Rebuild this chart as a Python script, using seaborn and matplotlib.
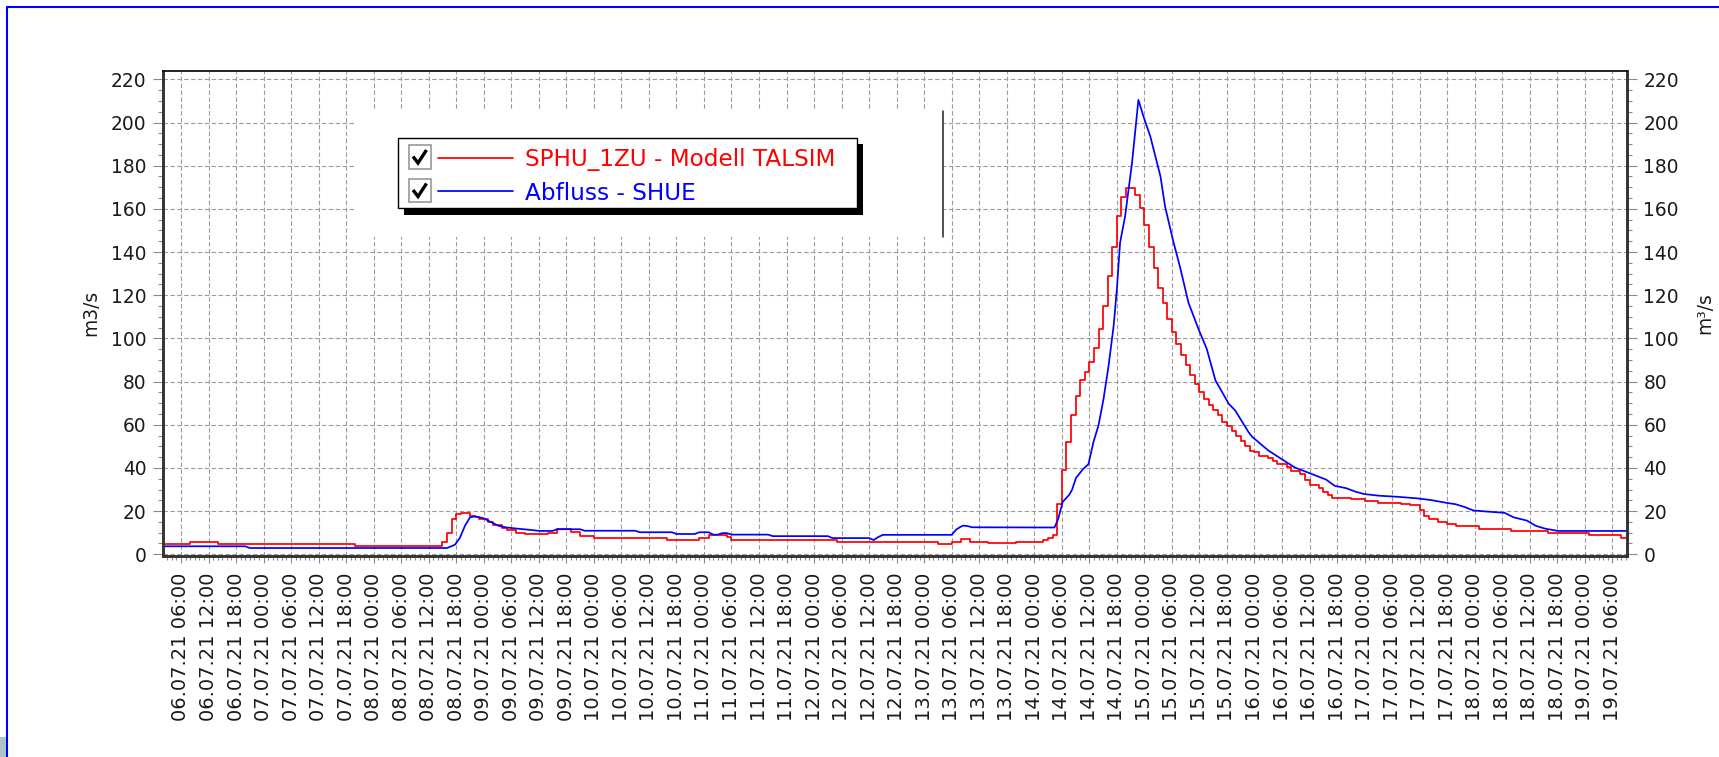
import pandas as pd
import matplotlib
matplotlib.use("Agg")
import matplotlib.pyplot as plt
import matplotlib.dates as mdates
from matplotlib.patches import Rectangle
from matplotlib.lines import Line2D
from matplotlib.ticker import MultipleLocator
import seaborn as sns

START = pd.Timestamp("2021-07-06 06:00")

# Model run (hourly step series): hours after START where the value changes, new value in m3/s
model_hours = [-4, 2, 8, 38, 57, 58, 59, 60, 61, 63, 64, 65, 67, 68, 70, 71, 73, 75, 80, 82,
               85, 87, 90, 106, 113, 115, 119, 120, 143, 165, 168, 170, 172, 176, 182, 188, 189, 190,
               191, 192, 193, 194, 195, 196, 197, 198, 199, 200, 201, 202, 203, 204, 205, 206,
               208, 209, 210, 211, 212, 213, 214, 215, 216, 217, 218, 219, 220, 221, 222, 223,
               224, 225, 226, 227, 228, 229, 230, 231, 232, 233, 234, 235, 237, 238, 239, 241,
               242, 244, 245, 246, 248, 249, 250, 251, 255, 258, 261, 266, 268, 270, 271, 272,
               274, 276, 278, 283, 290, 298, 307, 314, 315.2]
model_q = [4.7, 5.7, 4.8, 4.0, 5.7, 10.0, 16.3, 18.5, 19.2, 17.9, 17.1, 16.3, 14.8, 13.5, 12.4, 11.3, 10.0, 9.2, 10.0, 11.5,
           10.2, 8.6, 7.5, 6.7, 7.5, 8.9, 7.8, 6.7, 5.9, 4.8, 5.8, 7.0, 5.9, 5.0, 5.7, 6.8, 7.6, 8.9,
           23.5, 38.9, 52.0, 64.3, 73.1, 80.5, 84.6, 88.9, 95.4, 104.3, 115.1, 128.9, 142.5, 156.6, 165.5, 169.7,
           166.6, 160.5, 152.3, 142.5, 132.8, 123.5, 116.3, 109.2, 103.1, 97.4, 92.3, 87.8, 83.1, 78.9, 75.1, 71.7,
           69.2, 66.6, 64.3, 61.5, 59.4, 56.9, 54.6, 52.3, 50.0, 48.0, 47.3, 45.7, 44.6, 43.3, 41.7, 40.2,
           38.6, 37.0, 34.6, 32.2, 30.6, 29.0, 27.5, 26.2, 25.4, 24.8, 23.9, 23.5, 22.7, 20.3, 17.9, 16.3,
           15.1, 14.0, 12.9, 11.9, 10.8, 9.7, 8.7, 7.6, 7.6]

# Gauge measurement: hours after START and discharge in m3/s
gauge_hours = [-4, 14, 15, 58, 59.7, 60.8, 61.9, 63, 64.1, 65.9, 67.4, 69.2, 71, 73.2, 76.1, 78.3, 81, 82,
               87, 88, 99, 100, 107, 108, 112, 113, 115, 116, 117, 118, 119, 120, 128, 129, 141, 142,
               150, 151, 152, 153, 168, 169, 170, 170.6, 171.6, 172.4, 190.4, 191.2, 192.2, 193.6, 194.2,
               195.1, 196.6, 197.8, 198.9, 200, 201.1, 202.2, 203.3, 204, 204.7, 205.8, 207.3, 208.7,
               209.8, 211.3, 213.5, 214.5, 216.2, 217.8, 219.6, 221.8, 223.6, 225.5, 228.4, 229.8,
               232.7, 233.5, 237, 239.9, 242.8, 246.7, 249.6, 251.5, 254, 256, 257.9, 261.3, 264.7,
               269.5, 272.5, 275.9, 277.8, 279.8, 281.7, 284.6, 288.5, 290.5, 293.4, 295.3, 297.3,
               300.2, 315.2]
gauge_q = [3.7, 3.7, 2.9, 2.9, 4.4, 7.6, 13.2, 17.1, 17.6, 16.7, 15.1, 13.2, 12.4, 11.9, 11.3, 10.8, 10.8, 11.6,
           11.6, 10.9, 10.9, 10.2, 10.2, 9.4, 9.4, 10.2, 10.2, 9.1, 9.1, 9.8, 9.8, 9.1, 9.1, 8.4, 8.4, 7.5,
           7.5, 6.6, 8.0, 9.0, 9.0, 11.5, 12.8, 13.3, 13.0, 12.5, 12.4, 16.3, 24.3, 27.5, 29.7,
           35.4, 39.4, 41.7, 52.0, 59.7, 72.0, 87.4, 105.8, 122.8, 144.3, 156.6, 181.2, 210.5,
           202.8, 193.5, 175.1, 161.2, 145.8, 132.8, 116.6, 104.3, 95.1, 80.5, 69.7, 66.6,
           56.6, 54.4, 48.1, 44.1, 40.2, 37.0, 34.6, 31.7, 30.6, 29.0, 27.9, 27.1, 26.7,
           25.9, 25.1, 23.8, 23.2, 21.9, 20.3, 19.8, 19.2, 17.1, 15.6, 13.2, 11.9,
           10.8, 10.8]

series_labels = ["SPHU_1ZU - Modell TALSIM", "Abfluss - SHUE"]
series_colors = ["#ff0000", "#0000ff"]
y_ticks = list(range(0, 221, 20))
x_range_hours = (-3.92, 315.2)

model = pd.DataFrame({"time": START + pd.to_timedelta(model_hours, unit="h"), "q": model_q})
gauge = pd.DataFrame({"time": START + pd.to_timedelta(gauge_hours, unit="h"), "q": gauge_q})

sns.set_style("white")
plt.rcParams["font.family"] = ["DejaVu Sans"]

W, H = 1719, 757
fig = plt.figure(figsize=(W / 100, H / 100), dpi=100)
fig.patch.set_facecolor("white")


def fx(x):
    return x / W


def fy(y):
    return 1 - y / H


ax = fig.add_axes([fx(163), fy(556), (1627 - 163) / W, (556 - 70.7) / H])

sns.lineplot(data=model, x="time", y="q", ax=ax, color=series_colors[0], lw=1.25,
             drawstyle="steps-post", estimator=None, errorbar=None, legend=False)
sns.lineplot(data=gauge, x="time", y="q", ax=ax, color=series_colors[1], lw=1.25,
             estimator=None, errorbar=None, legend=False)

ax.set_xlim(START + pd.Timedelta(hours=x_range_hours[0]), START + pd.Timedelta(hours=x_range_hours[1]))
ax.set_ylim(-0.8, 224)
ax.set_yticks(y_ticks)
ax.yaxis.set_minor_locator(MultipleLocator(5))
ax.xaxis.set_major_locator(mdates.HourLocator(byhour=[0, 6, 12, 18]))
ax.xaxis.set_minor_locator(mdates.HourLocator())
ax.xaxis.set_major_formatter(mdates.DateFormatter("%d.%m.%y %H:%M"))
ax.set_xlabel("")
ax.set_ylabel("")

ax.set_axisbelow(True)
ax.grid(which="major", axis="both", color="#9c9c9c", lw=0.8, ls=(0, (4, 2.2)))

ax.tick_params(axis="y", which="both", direction="out", left=True, right=True,
               labelleft=True, labelright=True, color="#8a8a8a", width=0.8,
               labelsize=13.4, labelcolor="#1a1a1a", pad=4.8)
ax.tick_params(axis="y", which="major", length=7)
ax.tick_params(axis="y", which="minor", length=3.5)
ax.tick_params(axis="x", which="both", direction="out", bottom=True, color="#8a8a8a", width=0.8)
ax.tick_params(axis="x", which="major", length=5, pad=7, labelsize=14, labelrotation=90,
               labelcolor="#1a1a1a")
ax.tick_params(axis="x", which="minor", length=3)

for side in ["left", "right", "bottom"]:
    ax.spines[side].set_color("#333333")
    ax.spines[side].set_linewidth(2.1)
ax.spines["top"].set_color("#111111")
ax.spines["top"].set_linewidth(1.3)

ax.text(-0.0492, 0.5, "m3/s", transform=ax.transAxes, rotation=90, ha="center", va="center",
        fontsize=13.4, color="#1a1a1a")
ax.text(1.0533, 0.5, "m³/s", transform=ax.transAxes, rotation=90, ha="center", va="center",
        fontsize=13.4, color="#1a1a1a")


def rect_px(x0, y0, x1, y1, **kw):
    r = Rectangle((fx(x0), fy(y1)), fx(x1) - fx(x0), fy(y0) - fy(y1), transform=fig.transFigure, **kw)
    fig.add_artist(r)
    return r


def line_px(xs, ys, **kw):
    ln = Line2D([fx(v) for v in xs], [fy(v) for v in ys], transform=fig.transFigure, **kw)
    fig.add_artist(ln)
    return ln


# blank panel behind the legend with its dark right edge
rect_px(355, 111, 943, 237, facecolor="white", edgecolor="none", zorder=3)
line_px([943, 943], [111, 237], color="#222222", lw=1.1, zorder=4)

# legend box with drop shadow
rect_px(404, 144, 863, 214.5, facecolor="black", edgecolor="none", zorder=5)
rect_px(398, 137.7, 857, 208.3, facecolor="white", edgecolor="black", lw=1.0, zorder=6)

rows_y = [157.0, 190.5]
for label, color, yc in zip(series_labels, series_colors, rows_y):
    rect_px(408.5, yc - 11.5, 430.5, yc + 11.5, facecolor="white", edgecolor="#a0a0a0", lw=1.3, zorder=7)
    line_px([413, 418, 426.5], [yc - 0.5, yc + 6, yc - 7], color="black", lw=2.4,
            solid_capstyle="butt", solid_joinstyle="miter", zorder=8)
    line_px([438, 512.6], [yc + 0.7, yc + 0.7], color=color, lw=1.25, zorder=7)
    fig.text(fx(525), fy(yc), label, color=color, fontsize=16.7, ha="left", va="center_baseline",
             zorder=8)

# window frame
line_px([7, 7, W + 2], [H + 2, 6.7, 6.7], color="#0000ff", lw=1.5, zorder=9)
rect_px(0, 737, 6.3, 757, facecolor="#a9c3c6", edgecolor="none", zorder=9)

fig.savefig("out.png", dpi=100, facecolor="white")
